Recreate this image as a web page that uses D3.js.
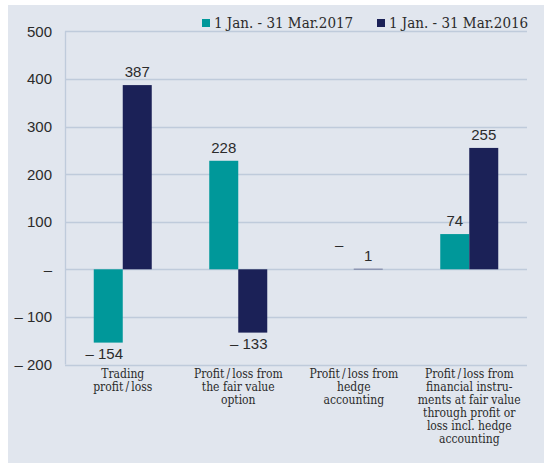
<!DOCTYPE html>
<meta charset="utf-8">
<head>
    <script type="text/javascript" src="https://cdnjs.cloudflare.com/ajax/libs/d3/7.8.5/d3.min.js"></script>
    <style>
        body { margin: 0; background: #fff; }
        .serif { font-family: "DejaVu Serif Condensed", "DejaVu Serif", serif; font-stretch: condensed; }
        .sans { font-family: "Liberation Sans", Arial, sans-serif; }
    </style>
    <title></title>
</head>
<body>
<script>

    var categories = [
        ["Trading", "profit\u2009/\u2009loss"],
        ["Profit\u2009/\u2009loss from", "the fair value", "option"],
        ["Profit\u2009/\u2009loss from", "hedge", "accounting"],
        ["Profit\u2009/\u2009loss from", "financial instru-", "ments at fair value", "through profit or", "loss incl. hedge", "accounting"]
    ]
    var seriesNames = ["1 Jan. - 31 Mar.2017", "1 Jan. - 31 Mar.2016"]
    var values2017 = [-154, 228, 0, 74]
    var values2016 = [387, -133, 1, 255]
    var yTicks = [-200, -100, 0, 100, 200, 300, 400, 500]

    var colors = ["#00989a", "#1b2157"]
    var width = 544
    var height = 463

    var svg = d3.select("body").append("svg")
        .attr("width", width)
        .attr("height", height)

    svg.append("rect")
        .attr("x", 8).attr("y", 5)
        .attr("width", width - 8).attr("height", height - 5)
        .attr("fill", "#e1e6ee")

    var x = d3.scaleBand()
        .domain(d3.range(categories.length))
        .range([65, 527])

    var xs = d3.scaleBand()
        .domain([0, 1])
        .range([0, x.bandwidth()])
        .paddingOuter(0.99)
        .paddingInner(0)

    var y = d3.scaleLinear()
        .domain([-200, 500])
        .range([364.5, 31.3])

    function fmt(v) {
        if (v === 0) return "\u2013"
        return v < 0 ? "\u2013 " + Math.abs(v) : String(v)
    }

    // grid
    svg.append("g")
        .selectAll("line")
        .data(yTicks)
        .enter()
        .append("line")
        .attr("x1", 65).attr("x2", 527)
        .attr("y1", d => Math.round(y(d)) + 0.5)
        .attr("y2", d => Math.round(y(d)) + 0.5)
        .attr("stroke", "#bfcbdb")
        .attr("stroke-width", 1.3)

    svg.append("line")
        .attr("x1", 65.5).attr("x2", 65.5)
        .attr("y1", y(500)).attr("y2", y(-200))
        .attr("stroke", "#bfcbdb")
        .attr("stroke-width", 1.3)

    // y tick labels
    svg.append("g")
        .selectAll("text")
        .data(yTicks)
        .enter()
        .append("text")
        .attr("class", "sans")
        .attr("x", 52)
        .attr("y", d => y(d))
        .attr("dy", "0.36em")
        .attr("text-anchor", "end")
        .attr("font-size", 15)
        .attr("fill", "#2b2b2b")
        .text(fmt)

    var series = [values2017, values2016]
    var bars = []
    series.forEach(function (vals, s) {
        vals.forEach(function (v, i) {
            bars.push({s: s, i: i, v: v})
        })
    })

    var bw = 29
    function bx(d) {
        return x(d.i) + x.bandwidth() / 2 + (d.s === 0 ? -bw : 0)
    }

    svg.append("g")
        .selectAll("rect")
        .data(bars)
        .enter()
        .append("rect")
        .attr("x", bx)
        .attr("width", bw)
        .attr("y", d => Math.min(y(d.v), y(0)))
        .attr("height", d => Math.abs(y(d.v) - y(0)))
        .attr("fill", d => colors[d.s])

    // value labels
    svg.append("g")
        .selectAll("text")
        .data(bars)
        .enter()
        .append("text")
        .attr("class", "sans")
        .attr("x", d => bx(d) + bw / 2 + (d.v < 0 ? -4 : 0))
        .attr("y", function (d) {
            if (d.v < 0) return y(d.v) + 16
            if (d.v === 0) return y(d.v) - 19
            return y(d.v) - 8
        })
        .attr("text-anchor", "middle")
        .attr("font-size", 15)
        .attr("fill", "#2b2b2b")
        .text(d => fmt(d.v))

    // category labels
    var cat = svg.append("g")
        .selectAll("text")
        .data(categories)
        .enter()
        .append("text")
        .attr("class", "serif")
        .attr("font-size", 12)
        .attr("fill", "#2b2b2b")
        .attr("text-anchor", "middle")
        .attr("transform", (d, i) => "translate(" + (x(i) + x.bandwidth() / 2) + ",378)")

    cat.selectAll("tspan")
        .data(d => d)
        .enter()
        .append("tspan")
        .attr("x", 0)
        .attr("y", (d, j) => j * 13)
        .text(d => d)

    // legend
    var legendX = [202, 377]
    var legend = svg.append("g")
        .selectAll("g")
        .data(seriesNames)
        .enter()
        .append("g")
        .attr("transform", (d, i) => "translate(" + legendX[i] + ",0)")

    legend.append("rect")
        .attr("x", 0).attr("y", 19)
        .attr("width", 8).attr("height", 8)
        .attr("fill", (d, i) => colors[i])

    legend.append("text")
        .attr("class", "serif")
        .attr("x", 12)
        .attr("y", 28)
        .attr("font-size", 15)
        .attr("fill", "#2b2b2b")
        .text(d => d)

</script>
</body>
</html>
